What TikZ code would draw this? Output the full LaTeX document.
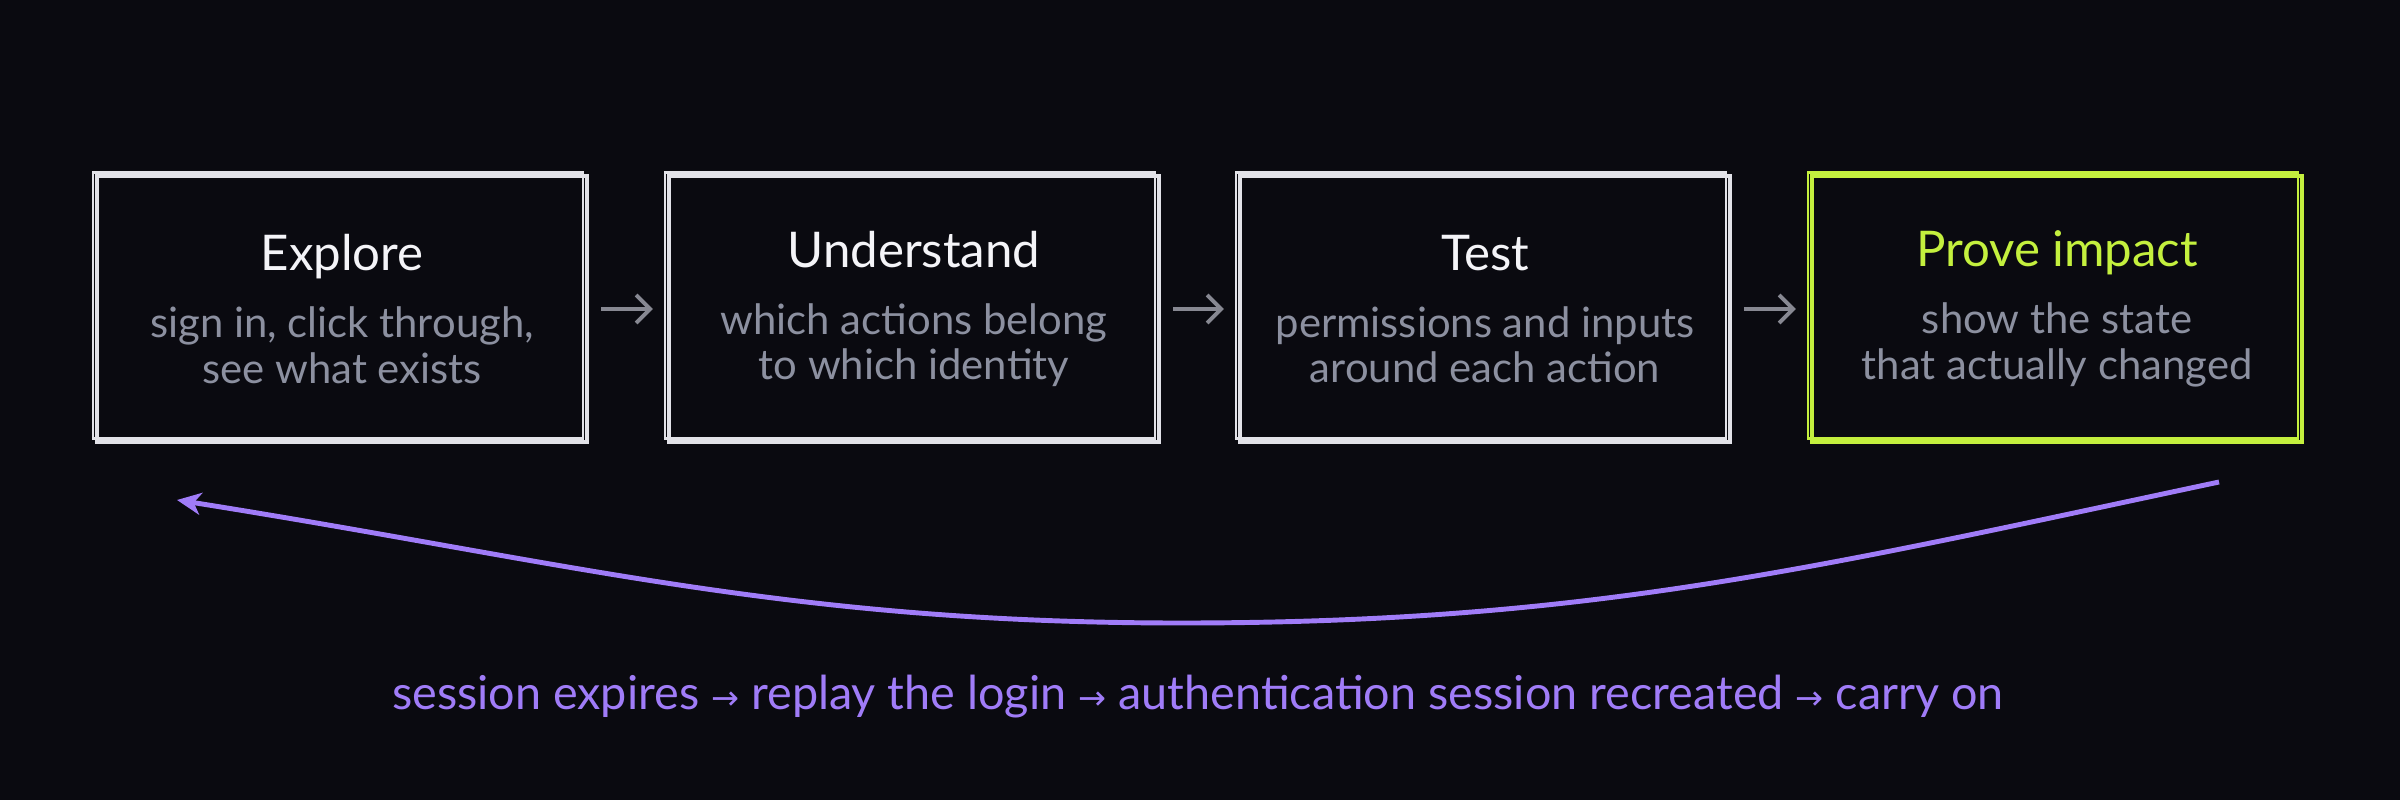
\documentclass[tikz,border=0pt]{standalone}
\usepackage{fontspec}
\setmainfont{Lato}
\newfontfamily\arrowfont{DejaVu Sans}
\usetikzlibrary{arrows.meta,positioning}
\definecolor{bgdark}{RGB}{10,10,16}
\definecolor{boxgray}{RGB}{226,226,232}
\definecolor{titlewhite}{RGB}{244,244,248}
\definecolor{subgray}{RGB}{140,144,160}
\definecolor{arrowgray}{RGB}{135,136,146}
\definecolor{provegreen}{RGB}{196,240,62}
\definecolor{loopviolet}{RGB}{160,124,248}
\newcommand{\stagename}[2][titlewhite]{{\fontsize{14}{17}\selectfont\color{#1}#2}}
\newcommand{\thenarrow}{{\arrowfont\fontsize{9.5}{10}\selectfont →}}

\begin{document}
\begin{tikzpicture}[
  stage/.style={draw=boxgray, line width=1.2pt, minimum width=4.9cm,
    minimum height=2.66cm, align=center, text=subgray,
    font=\fontsize{11.9}{13}\selectfont,
    preaction={draw, line width=0.6pt, transform canvas={shift={(-0.04,0.035)}}}},
  flow/.style={-{Straight Barb[length=1.4mm]}, line width=1.1pt, arrowgray,
    shorten <=1.2mm, shorten >=1.4mm},
  loop/.style={-{Stealth[length=2.4mm, width=2.2mm, inset=0.7mm]}, line width=1.4pt, loopviolet},
  note/.style={text=loopviolet, font=\fontsize{13.3}{15}\selectfont}]
\fill[bgdark] (0,0) rectangle (24,-8);
\useasboundingbox (0,0) rectangle (24,-8);
% Stages
\node[stage] (explore) at (3.42,-3.09) {\stagename{Explore}\\[6pt] sign in, click through,\\ see what exists};
\node[stage] (understand) at (9.14,-3.09) {\stagename{Understand}\\[6pt] which actions belong\\ to which identity};
\node[stage] (test) at (14.85,-3.09) {\stagename{Test}\\[6pt] permissions and inputs\\ around each action};
\node[stage, draw=provegreen] (impact) at (20.57,-3.09) {\stagename[provegreen]{Prove impact}\\[6pt] show the state\\ that actually changed};
% Forward
\draw[flow] (explore) -- (understand);
\draw[flow] (understand) -- (test);
\draw[flow] (test) -- (impact);
% Loop back
\coordinate (loopstart) at (22.19,-4.82);
\coordinate (loopdip) at (11.81,-6.23);
\coordinate (loopend) at (1.77,-5.00);
\draw[loop] (loopstart) to[out=192,in=0] (loopdip) to[out=180,in=-9] (loopend);
\node[note] (recover) at (11.98,-6.97) {session expires \thenarrow\ replay the login \thenarrow\ authentication session recreated \thenarrow\ carry on};
\end{tikzpicture}
\end{document}
